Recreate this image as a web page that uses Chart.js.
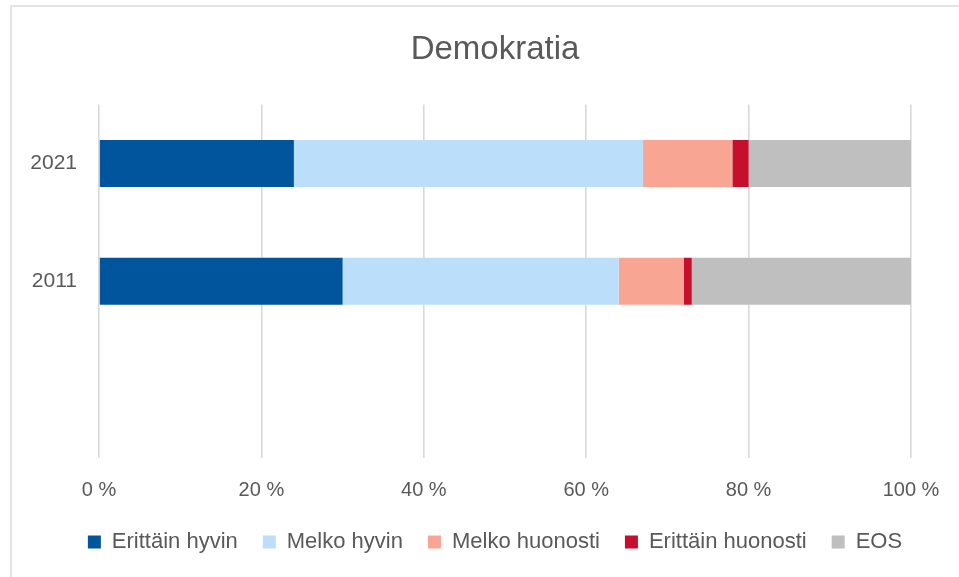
<!DOCTYPE html>
<html>
<head>
<meta charset="utf-8">
<script src="https://cdn.jsdelivr.net/npm/chart.js@4"></script>
<style>
  html, body { margin: 0; padding: 0; background: #ffffff; }
  #wrap { position: relative; width: 959px; height: 577px; }
  #frame { position: absolute; left: 10px; top: 5px; right: -10px; bottom: -10px;
           border-top: 2px solid #e3e3e3; border-left: 2px solid #e3e3e3; pointer-events: none; }
  canvas { position: absolute; left: 0; top: 0; }
</style>
</head>
<body>
<div id="wrap">
  <canvas id="c" width="959" height="577"></canvas>
  <div id="frame"></div>
</div>
<script>
const categories = ['2021', '2011', ''];
const seriesNames = ['Erittäin hyvin', 'Melko hyvin', 'Melko huonosti', 'Erittäin huonosti', 'EOS'];
const erittainHyvin = [24, 30, null];
const melkoHyvin = [43, 34, null];
const melkoHuonosti = [11, 8, null];
const erittainHuonosti = [2, 1, null];
const eos = [20, 27, null];
const xTicks = [0, 20, 40, 60, 80, 100];
const colors = ['#00559C', '#BBDEFB', '#F8A594', '#C50F2C', '#BFBFBF'];

const seriesValues = [erittainHyvin, melkoHyvin, melkoHuonosti, erittainHuonosti, eos];
const FONT = "'Liberation Sans', Arial, sans-serif";
const TXT = '#595959';

new Chart(document.getElementById('c'), {
  type: 'bar',
  data: {
    labels: categories,
    datasets: seriesNames.map((n, i) => ({
      label: n,
      data: seriesValues[i],
      backgroundColor: colors[i],
      borderWidth: 0,
      categoryPercentage: 1.0,
      barPercentage: 0.4
    }))
  },
  options: {
    indexAxis: 'y',
    responsive: false,
    animation: false,
    devicePixelRatio: 1,
    layout: { padding: { left: 31, right: 0, top: 10, bottom: 14 } },
    plugins: {
      tooltip: { enabled: false },
      title: {
        display: true,
        text: 'Demokratia',
        color: TXT,
        font: { family: FONT, size: 33, weight: 'normal' },
        padding: { top: 20, bottom: 35 }
      },
      legend: {
        position: 'bottom',
        labels: {
          color: TXT,
          font: { family: FONT, size: 22 },
          boxWidth: 13,
          boxHeight: 13,
          padding: 25
        }
      }
    },
    scales: {
      x: {
        stacked: true,
        min: 0,
        max: 100,
        afterFit(scale) { scale.paddingRight = 48; scale.height = 48; },
        afterBuildTicks(scale) { scale.ticks = xTicks.map(v => ({ value: v })); },
        grid: { color: '#d9d9d9', lineWidth: 1.6, drawTicks: false },
        border: { display: false },
        ticks: {
          color: TXT,
          font: { family: FONT, size: 20 },
          padding: 20,
          callback: v => v + ' %'
        }
      },
      y: {
        stacked: true,
        afterFit(scale) { scale.width = 68; },
        grid: { display: false, drawTicks: false },
        border: { display: false },
        ticks: {
          color: TXT,
          font: { family: FONT, size: 21 },
          padding: 22
        }
      }
    }
  }
});
</script>
</body>
</html>
